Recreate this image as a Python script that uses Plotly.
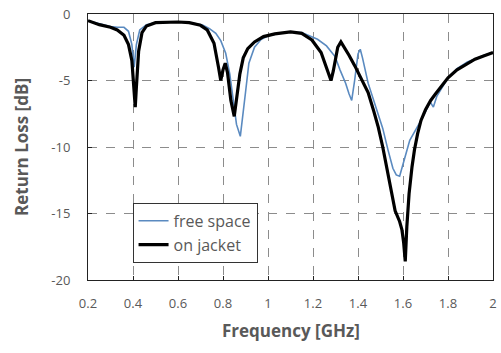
import plotly.graph_objects as go

# free space
fs_f = [0.20, 0.25, 0.30, 0.33, 0.36, 0.38, 0.395, 0.405, 0.415, 0.43, 0.46, 0.50, 0.60, 0.65,
        0.709, 0.74, 0.768, 0.79, 0.812, 0.83, 0.842, 0.86, 0.877, 0.89, 0.90, 0.915, 0.94, 0.97,
        1.00, 1.05, 1.10, 1.15, 1.18, 1.22, 1.26, 1.298, 1.32, 1.345, 1.36, 1.372, 1.385, 1.40,
        1.41, 1.42, 1.445, 1.47, 1.489, 1.51, 1.533, 1.555, 1.57, 1.585, 1.60, 1.63, 1.68, 1.70,
        1.71, 1.72, 1.735, 1.75, 1.77, 1.80, 1.84, 1.886, 1.93, 1.96, 2.00]
fs_db = [-0.5, -0.75, -0.95, -1.0, -1.0, -1.3, -2.3, -4.0, -2.3, -1.2, -0.8, -0.65, -0.6, -0.65,
         -0.83, -1.1, -1.45, -2.0, -2.95, -4.5, -6.0, -8.3, -9.2, -7.5, -5.9, -3.7, -2.5, -1.9,
         -1.65, -1.45, -1.35, -1.4, -1.6, -1.9, -2.4, -3.2, -4.2, -5.2, -6.0, -6.5, -5.0, -3.0,
         -2.65, -3.3, -5.2, -6.5, -7.4, -8.6, -10.2, -11.6, -12.1, -12.2, -11.3, -9.5, -8.0, -7.4,
         -7.0, -6.6, -7.0, -6.2, -5.6, -4.8, -4.1, -3.6, -3.3, -3.1, -2.9]

# on jacket
oj_f = [0.20, 0.25, 0.30, 0.33, 0.36, 0.38, 0.395, 0.405, 0.41, 0.415, 0.425, 0.44, 0.46, 0.50,
        0.55, 0.60, 0.65, 0.70, 0.73, 0.76, 0.78, 0.79, 0.80, 0.81, 0.82, 0.835, 0.85, 0.86,
        0.875, 0.89, 0.91, 0.94, 0.98, 1.03, 1.10, 1.15, 1.195, 1.236, 1.26, 1.28, 1.29, 1.31,
        1.324, 1.34, 1.36, 1.386, 1.415, 1.445, 1.47, 1.49, 1.51, 1.533, 1.55, 1.565, 1.585,
        1.595, 1.603, 1.61, 1.617, 1.627, 1.64, 1.651, 1.665, 1.68, 1.70, 1.723, 1.745, 1.767,
        1.80, 1.84, 1.886, 1.92, 1.958, 2.00]
oj_db = [-0.5, -0.8, -1.0, -1.2, -1.6, -2.3, -3.5, -6.0, -7.0, -5.5, -2.8, -1.4, -0.9, -0.65,
         -0.6, -0.6, -0.65, -0.85, -1.2, -2.2, -4.0, -5.0, -4.2, -3.7, -4.4, -6.5, -7.7, -6.5,
         -4.5, -3.3, -2.6, -2.1, -1.7, -1.5, -1.35, -1.45, -1.95, -2.9, -4.0, -5.0, -4.3, -2.5,
         -2.1, -2.5, -3.1, -3.9, -4.9, -5.9, -7.3, -8.5, -10.0, -12.0, -13.5, -14.8, -15.6,
         -16.2, -17.2, -18.6, -16.0, -13.5, -11.5, -10.2, -9.0, -8.0, -7.2, -6.5, -6.0, -5.5,
         -4.8, -4.2, -3.7, -3.4, -3.15, -2.9]

x_ticks = [0.2, 0.4, 0.6, 0.8, 1.0, 1.2, 1.4, 1.6, 1.8, 2.0]
x_labels = ["0.2", "0.4", "0.6", "0.8", "1", "1.2", "1.4", "1.6", "1.8", "2"]
y_ticks = [0, -5, -10, -15, -20]
y_labels = ["0", "-5", "-10", "-15", "-20"]

FONT = "Open Sans"
GRAY = "#595959"

fig = go.Figure()
fig.add_trace(go.Scatter(x=fs_f, y=fs_db, mode="lines", name="free space",
                         line=dict(color="#5a8ac0", width=1.6)))
fig.add_trace(go.Scatter(x=oj_f, y=oj_db, mode="lines", name="on jacket",
                         line=dict(color="black", width=3.2)))

axis_common = dict(showgrid=True, gridcolor="#8c8c8c", griddash="dash", gridwidth=1,
                   showline=True, linecolor="#222222", linewidth=1, mirror=True,
                   ticks="inside", ticklen=4, tickcolor="#222222", zeroline=False,
                   tickfont=dict(family=FONT, size=13, color=GRAY))

fig.update_xaxes(range=[0.2, 2.0], tickvals=x_ticks, ticktext=x_labels, ticklabelstandoff=11,
                 **axis_common)
fig.update_yaxes(range=[-20, 0], tickvals=y_ticks, ticktext=y_labels, ticklabelstandoff=14,
                 title=dict(text="<b>Return Loss [dB]</b>", font=dict(family=FONT, size=17, color=GRAY),
                            standoff=18),
                 **axis_common)

fig.add_annotation(text="<b>Frequency [GHz]</b>", xref="paper", yref="paper",
                   x=0.5, y=-0.188, xanchor="center", yanchor="middle", showarrow=False,
                   font=dict(family=FONT, size=17, color=GRAY))

fig.update_layout(
    width=501, height=353,
    margin=dict(l=88, r=4, t=14, b=73),
    plot_bgcolor="white", paper_bgcolor="white",
    legend=dict(x=0.11, y=0.29, xanchor="left", yanchor="top",
                bgcolor="white", bordercolor="#333333", borderwidth=1,
                font=dict(family=FONT, size=16, color=GRAY),
                itemwidth=30, tracegroupgap=0),
    showlegend=True,
)

fig.write_html("out.html")
